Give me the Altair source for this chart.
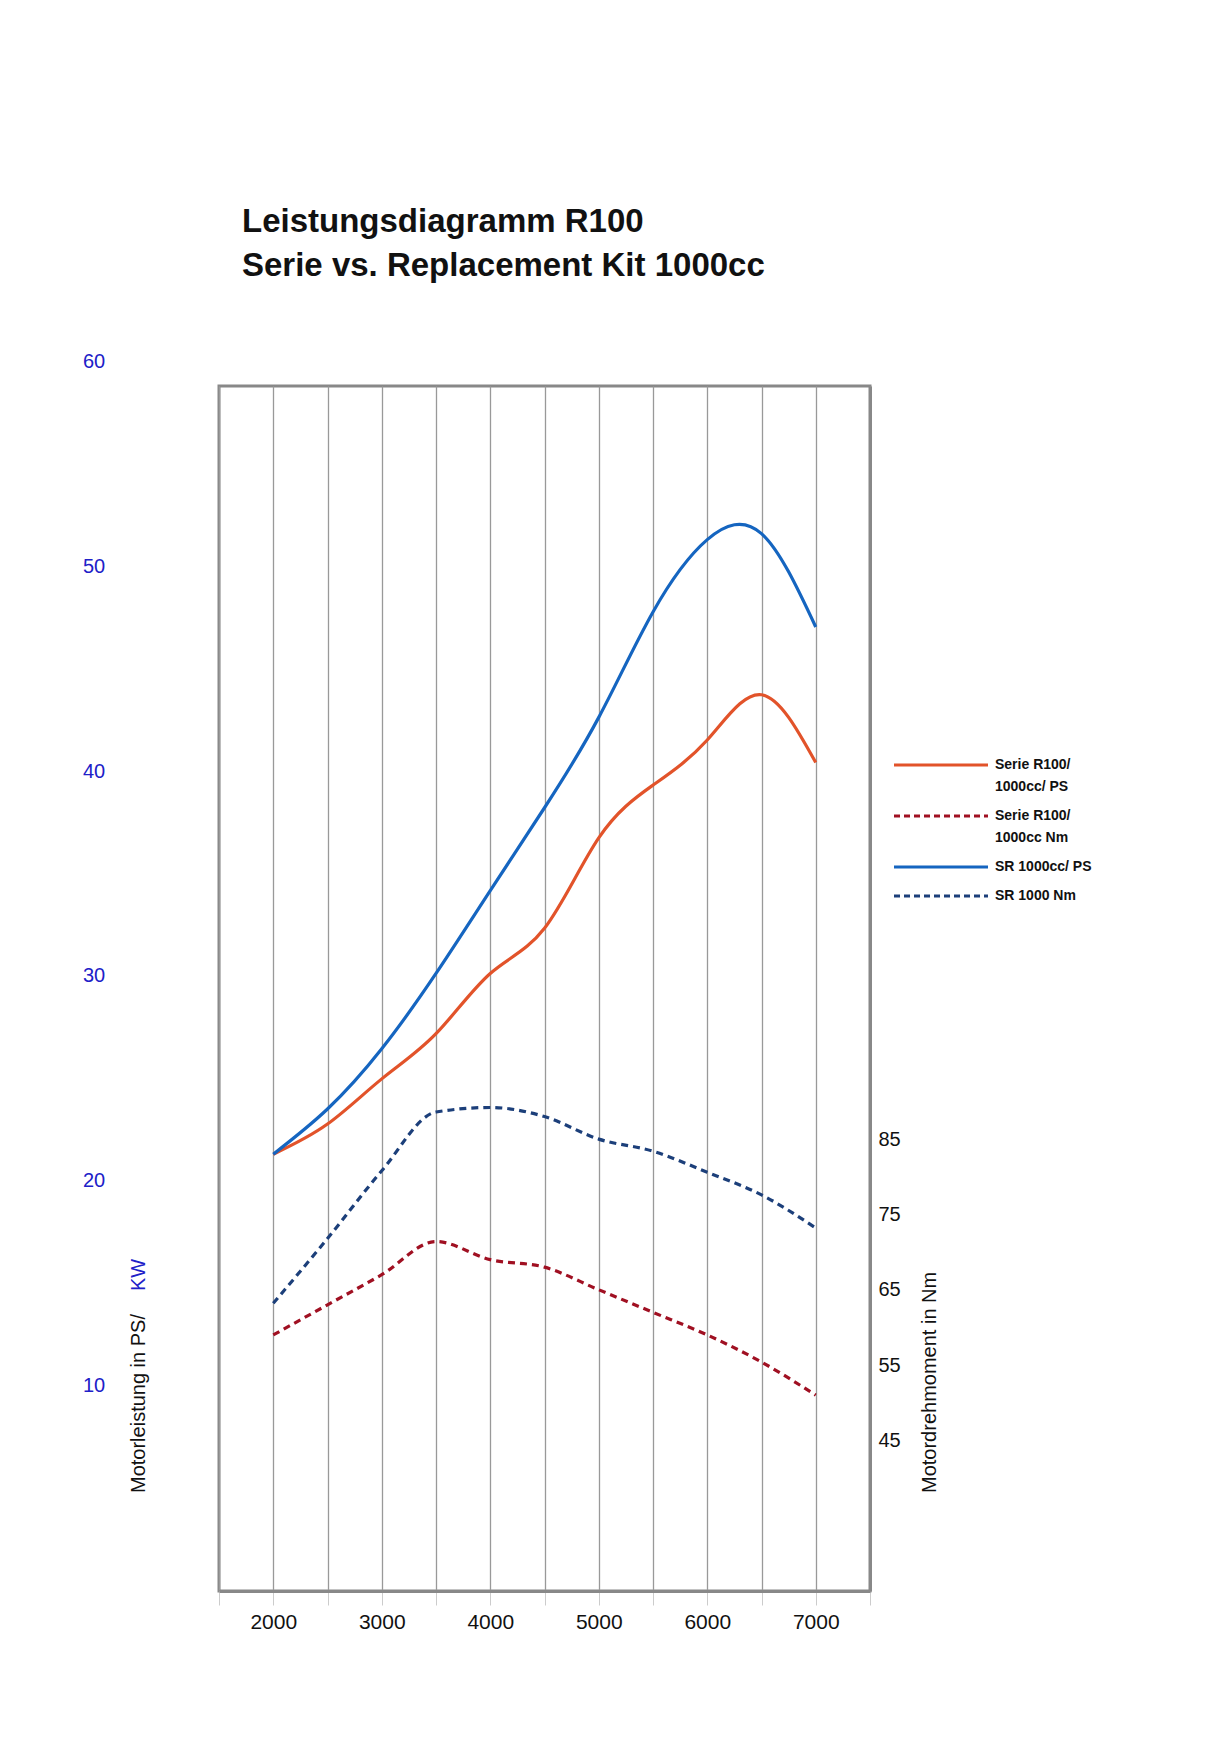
import altair as alt
import pandas as pd

rpm = [2000, 2500, 3000, 3500, 4000, 4500, 5000, 5500, 6000, 6500, 7000]
serie_ps = [29, 31, 34, 37, 41, 44, 50, 53.5, 56.5, 59.5, 55]
sr_ps = [29, 32, 36, 41, 46.5, 52, 58, 65, 69.8, 70.2, 64]
serie_nm = [59, 63, 67, 71.4, 69, 68, 65, 62, 59, 55.4, 51]
sr_nm = [63.2, 71.8, 80.8, 88.6, 89.2, 88, 85, 83.4, 80.6, 77.6, 73.2]
kw_ticks = [10, 20, 30, 40, 50, 60]
nm_ticks = [45, 55, 65, 75, 85]

W, H = 651, 1205
FONT = "Liberation Sans"
XS = alt.Scale(domain=[1500, 7500], nice=False)
PS = alt.Scale(domain=[0, 80], nice=False)
NM = alt.Scale(domain=[25, 185], nice=False)

ps_df = pd.DataFrame({"rpm": rpm * 2, "v": serie_ps + sr_ps,
                      "s": ["serie"] * len(rpm) + ["sr"] * len(rpm)})
nm_df = pd.DataFrame({"rpm": rpm * 2, "v": serie_nm + sr_nm,
                      "s": ["serie"] * len(rpm) + ["sr"] * len(rpm)})

x_axis = alt.Axis(
    values=list(range(1500, 7501, 500)), labelExpr="datum.value % 1000 == 0 ? datum.label : ''",
    format="d", title=None, grid=True, gridColor="#999", gridWidth=1.3,
    labelFontSize=21, labelColor="#111", labelPadding=6, tickColor="#ccc", tickSize=14,
    domainColor="#888", domainWidth=3, labelFont=FONT)

ps_lines = alt.Chart(ps_df).mark_line(strokeWidth=3.2, interpolate="natural").encode(
    x=alt.X("rpm:Q", scale=XS, axis=x_axis),
    y=alt.Y("v:Q", scale=PS, axis=alt.Axis(
        values=list(range(0, 81, 10)), title=None, grid=True, gridColor="#999", gridWidth=1.3,
        labelFontSize=20, labelColor="#111", tickSize=4, tickColor="#999", labelPadding=6,
        domainColor="#888", domainWidth=2, labelFont=FONT)),
    color=alt.Color("s:N", scale=alt.Scale(domain=["serie", "sr"], range=["#e2532a", "#1565c0"]), legend=None),
)

kw_df = pd.DataFrame({"kw": kw_ticks})
kw_labels = alt.Chart(kw_df).transform_calculate(ps="datum.kw * 1.36").mark_text(
    fontSize=20, color="#2020c8", align="center", baseline="middle", font=FONT
).encode(x=alt.value(-125), y=alt.Y("ps:Q", scale=PS, axis=None), text="kw:Q")

left = alt.layer(ps_lines, kw_labels)

nm_lines = alt.Chart(nm_df).mark_line(strokeWidth=3.2, strokeDash=[7, 5], interpolate="monotone").encode(
    x=alt.X("rpm:Q", scale=XS, axis=x_axis),
    y=alt.Y("v:Q", scale=NM, axis=alt.Axis(
        orient="right", values=nm_ticks, title=None, grid=False, labelFontSize=20,
        labelColor="#111", tickSize=0, labelPadding=8, domainColor="#888", domainWidth=3,
        labelFont=FONT)),
    color=alt.Color("s:N", scale=alt.Scale(domain=["serie", "sr"], range=["#a01022", "#1c3f7a"]), legend=None),
)


def txt(s, x, y, color="#111", size=20, angle=0, weight="normal", align="left"):
    kw = dict(text=s, fontSize=size, color=color, align=align, baseline="middle",
              font=FONT, fontWeight=weight)
    if angle:
        kw["angle"] = angle
    return alt.Chart(pd.DataFrame({"a": [0]})).mark_text(**kw).encode(x=alt.value(x), y=alt.value(y))


texts = [
    txt("Leistungsdiagramm R100", 23, -164, size=33, weight="bold"),
    txt("Serie vs. Replacement Kit 1000cc", 23, -120, size=33, weight="bold"),
    txt("Motorleistung in PS/", -80, 1107, angle=270),
    txt("KW", -80, 905, color="#2020c8", angle=270),
    txt("Motordrehmoment in Nm", 711, 1107, angle=270),
]

legend_items = [
    ("Serie R100/", "1000cc/ PS", "#e2532a", None, 379),
    ("Serie R100/", "1000cc Nm", "#a01022", [6, 4], 430),
    ("SR 1000cc/ PS", None, "#1565c0", None, 481),
    ("SR 1000 Nm", None, "#1c3f7a", [6, 4], 510),
]
legend = []
for l1, l2, col, dash, y in legend_items:
    mk = dict(color=col, strokeWidth=3)
    if dash:
        mk["strokeDash"] = dash
    legend.append(alt.Chart(pd.DataFrame({"a": [0]})).mark_rule(**mk).encode(
        x=alt.value(675), x2=alt.value(769), y=alt.value(y)))
    legend.append(txt(l1, 776, y, size=14, weight="bold"))
    if l2:
        legend.append(txt(l2, 776, y + 22, size=14, weight="bold"))

chart = alt.layer(left, nm_lines, *texts, *legend).resolve_scale(
    y="independent", color="independent"
).properties(
    width=W, height=H,
    padding={"left": 211, "top": 378, "right": 330, "bottom": 60},
    autosize=alt.AutoSizeParams(type="none"),
).configure_view(stroke="#888", strokeWidth=3)

chart.save("out.html", embed_options={"renderer": "svg", "actions": False})
